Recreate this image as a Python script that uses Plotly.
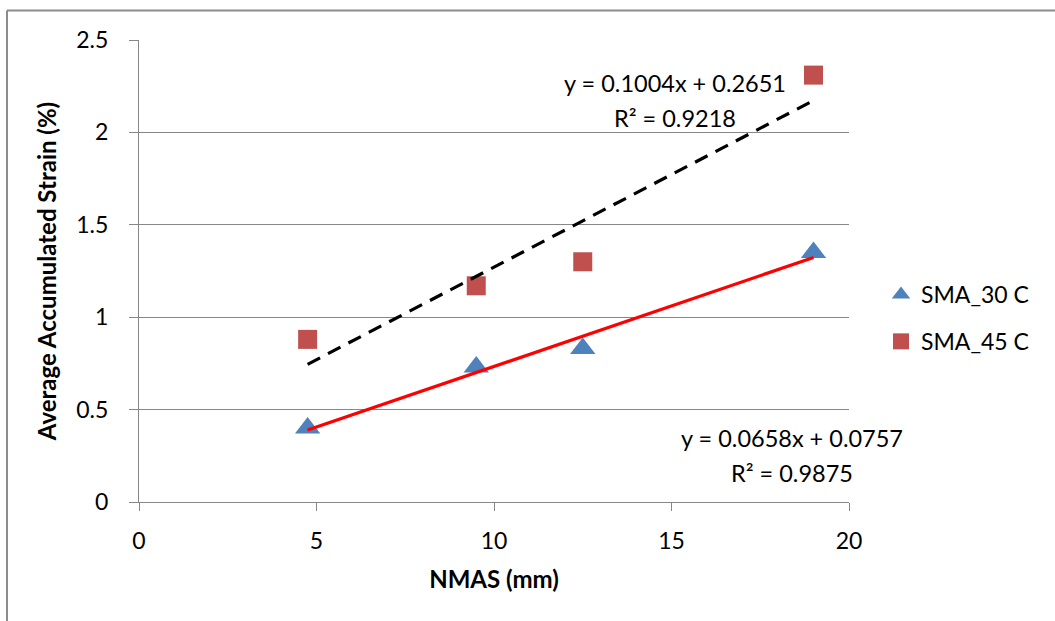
import numpy as np
import plotly.graph_objects as go

nmas = [4.75, 9.5, 12.5, 19]
sma_30 = [0.40, 0.73, 0.83, 1.35]
sma_45 = [0.88, 1.17, 1.30, 2.31]
x_ticks = [0, 5, 10, 15, 20]
y_ticks = [0, 0.5, 1, 1.5, 2, 2.5]
eq_30 = ["y = 0.0658x + 0.0757", "R² = 0.9875"]
eq_45 = ["y = 0.1004x + 0.2651", "R² = 0.9218"]

FONT = "Lato, Carlito, Calibri, sans-serif"
BLUE = "#4F81BD"
RED = "#C0504D"
GRID = "#878787"

L, R, T, B = 139, 849, 40, 502
PW, PH = R - L, B - T

fig = go.Figure()

x_fit = np.array([min(nmas), max(nmas)])
s30 = np.polyfit(nmas, sma_30, 1)
s45 = np.polyfit(nmas, sma_45, 1)

fig.add_trace(go.Scatter(x=nmas, y=sma_30, mode="markers", name="SMA_30 C",
                         legendgroup="a",
                         marker=dict(symbol="triangle-up", size=22, color=BLUE,
                                     line=dict(width=0))))
fig.add_trace(go.Scatter(x=nmas, y=sma_45, mode="markers", name="SMA_45 C",
                         legendgroup="b",
                         marker=dict(symbol="square", size=19, color=RED,
                                     line=dict(width=0))))
fig.add_trace(go.Scatter(x=x_fit, y=np.polyval(s45, x_fit), mode="lines",
                         line=dict(color="black", width=3.2, dash="14px,9px"),
                         showlegend=False, hoverinfo="skip"))
fig.add_trace(go.Scatter(x=x_fit, y=np.polyval(s30, x_fit), mode="lines",
                         line=dict(color="#FF0000", width=3.2),
                         showlegend=False, hoverinfo="skip"))

fig.update_layout(
    width=1055, height=621,
    margin=dict(l=L, r=1055 - R, t=T, b=621 - B),
    paper_bgcolor="white", plot_bgcolor="white",
    font=dict(family=FONT, size=23, color="black"),
    showlegend=True,
    legend=dict(x=(881 - L) / PW, y=(B - 318) / PH, xanchor="left", yanchor="middle",
                font=dict(size=23), tracegroupgap=14,
                itemwidth=30, bgcolor="rgba(0,0,0,0)"),
    xaxis=dict(range=[0, 20], tickvals=x_ticks, showgrid=False,
               showline=True, linecolor=GRID, linewidth=1.3,
               ticks="outside", ticklen=8, tickcolor=GRID, zeroline=False,
               ticklabelstandoff=10,
               title=dict(text="<b>NMAS (mm)</b>", font=dict(size=24), standoff=18)),
    yaxis=dict(range=[0, 2.5], tickvals=y_ticks, showgrid=True,
               gridcolor=GRID, gridwidth=1.3,
               showline=True, linecolor=GRID, linewidth=1.3,
               ticks="outside", ticklen=9, tickcolor=GRID, zeroline=False,
               ticklabelstandoff=16,
               title=dict(text="<b>Average Accumulated Strain (%)</b>",
                          font=dict(size=24), standoff=12)),
)

# chart border (left and top visible)
bx, by = 7, 10.5
fig.add_shape(type="line", xref="paper", yref="paper",
              x0=(bx - L) / PW, x1=(bx - L) / PW, y0=(B - by) / PH, y1=(B - 640) / PH,
              line=dict(color="#8C8C8C", width=2))
fig.add_shape(type="line", xref="paper", yref="paper",
              x0=(bx - L) / PW, x1=(1080 - L) / PW, y0=(B - by) / PH, y1=(B - by) / PH,
              line=dict(color="#8C8C8C", width=2))

ann = [
    (675, 83, eq_45[0]), (675, 118, eq_45[1]),
    (792, 438, eq_30[0]), (792, 473, eq_30[1]),
]
for px, py, t in ann:
    fig.add_annotation(xref="paper", yref="paper",
                       x=(px - L) / PW, y=(B - py) / PH,
                       text=t, showarrow=False, xanchor="center", yanchor="middle",
                       font=dict(family=FONT, size=23.5, color="black"))

fig.write_html("out.html", config={"displayModeBar": False},
               post_script="document.body.style.margin='0';")
